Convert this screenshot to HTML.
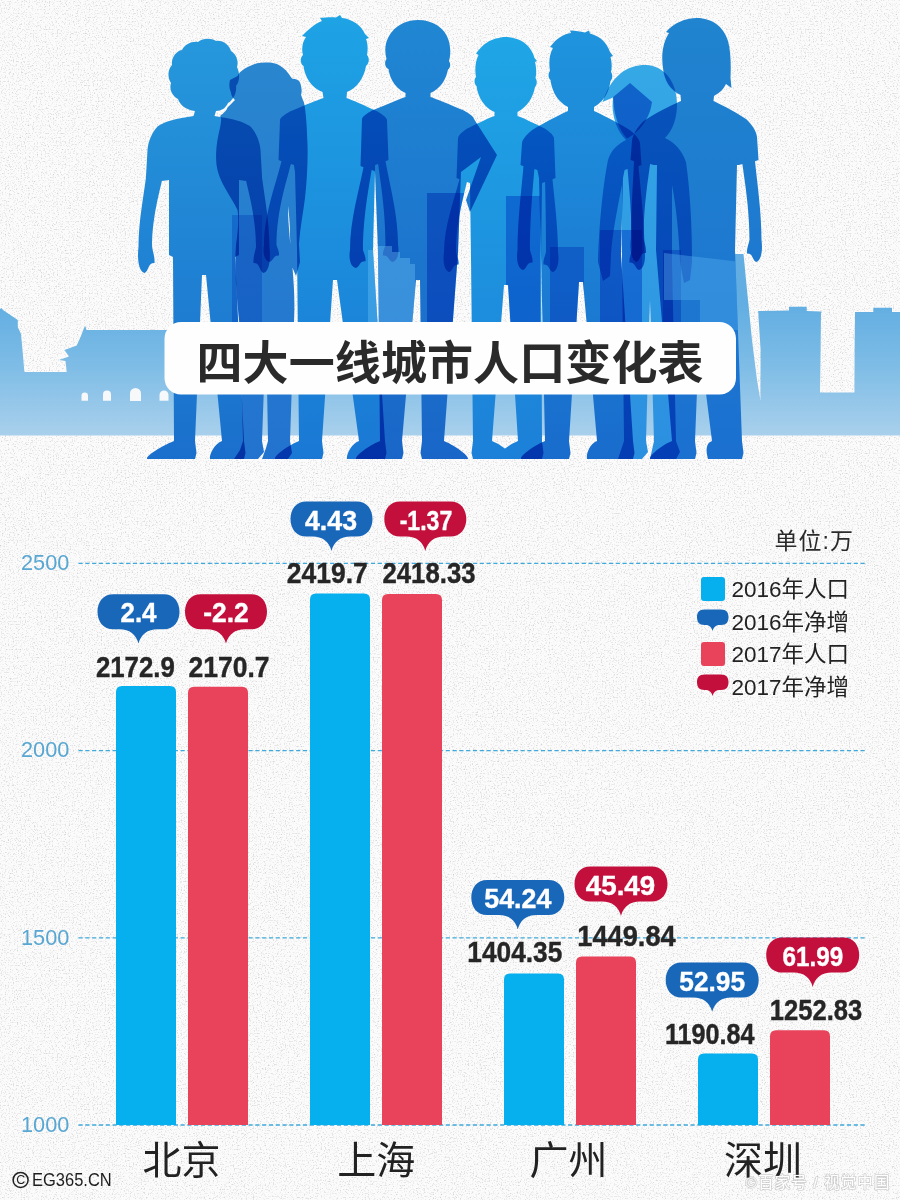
<!DOCTYPE html>
<html lang="zh"><head><meta charset="utf-8"><title>四大一线城市人口变化表</title>
<style>html,body{margin:0;padding:0;background:#f0f0f0;font-family:"Liberation Sans",sans-serif}#page{position:relative;width:900px;height:1200px;overflow:hidden;background:#efefef}#page svg{position:absolute;left:0;top:0;display:block}.ax{position:absolute;left:20.8px;width:70px;font-size:22.3px;line-height:24px;color:#58a6d2;transform-origin:0 50%;transform:scaleX(.975)}.sr{position:absolute;left:0;top:0;width:1px;height:1px;overflow:hidden;clip:rect(0 0 0 0);clip-path:inset(50%);white-space:nowrap;color:transparent;font-size:1px}.copy{position:absolute;left:32.2px;top:1167.8px;font-size:19px;line-height:24px;color:#1e1e1e;white-space:nowrap;transform-origin:0 50%;transform:scaleX(.868)}
#page svg text{font-family:"Liberation Sans","Noto Sans CJK SC",sans-serif}
.bub{font-size:28px;font-weight:bold;fill:#fff;stroke:#fff;stroke-width:0.4;text-anchor:middle}
.val{font-size:30px;font-weight:bold;fill:#262626;stroke:#262626;stroke-width:0.4;text-anchor:middle}
.city{font-size:39px;fill:#222;text-anchor:middle}
.leg{font-size:22.5px;fill:#222}
</style></head><body>
<div id="page">
<svg width="900" height="1200" viewBox="0 0 900 1200" role="img" aria-label="四大一线城市人口变化表">
<defs>
<filter id="noise" x="0" y="0" width="100%" height="100%" color-interpolation-filters="sRGB"><feTurbulence type="fractalNoise" baseFrequency="0.75" numOctaves="2" seed="7" result="t"/><feColorMatrix type="matrix" values="0 0 0 0 0.80  0 0 0 0 0.80  0 0 0 0 0.80  0 0 0 2.6 -1.38"/></filter>
<linearGradient id="sky" x1="0" y1="305" x2="0" y2="436" gradientUnits="userSpaceOnUse"><stop offset="0" stop-color="#62aee2"/><stop offset="0.45" stop-color="#7dbce6"/><stop offset="1" stop-color="#a9d0ec"/></linearGradient>
<linearGradient id="g2" x1="0" y1="60" x2="0" y2="460" gradientUnits="userSpaceOnUse"><stop offset="0" stop-color="#2a86cf"/><stop offset="1" stop-color="#2273cf"/></linearGradient><linearGradient id="g7" x1="0" y1="64" x2="0" y2="460" gradientUnits="userSpaceOnUse"><stop offset="0" stop-color="#35a8e6"/><stop offset="1" stop-color="#2b8fe0"/></linearGradient><linearGradient id="g1" x1="0" y1="38" x2="0" y2="460" gradientUnits="userSpaceOnUse"><stop offset="0" stop-color="#2698dc"/><stop offset="1" stop-color="#1a6fcc"/></linearGradient><linearGradient id="g4" x1="0" y1="20" x2="0" y2="460" gradientUnits="userSpaceOnUse"><stop offset="0" stop-color="#2087d3"/><stop offset="1" stop-color="#1966c8"/></linearGradient><linearGradient id="g6" x1="0" y1="30" x2="0" y2="460" gradientUnits="userSpaceOnUse"><stop offset="0" stop-color="#1f94dd"/><stop offset="1" stop-color="#196ccc"/></linearGradient><linearGradient id="g8" x1="0" y1="17" x2="0" y2="460" gradientUnits="userSpaceOnUse"><stop offset="0" stop-color="#2084cf"/><stop offset="1" stop-color="#1b70d0"/></linearGradient><linearGradient id="g3" x1="0" y1="17" x2="0" y2="460" gradientUnits="userSpaceOnUse"><stop offset="0" stop-color="#1ea3e5"/><stop offset="1" stop-color="#1a78d4"/></linearGradient><linearGradient id="g5" x1="0" y1="37" x2="0" y2="460" gradientUnits="userSpaceOnUse"><stop offset="0" stop-color="#1fa6e6"/><stop offset="1" stop-color="#1c80d8"/></linearGradient>
</defs>
<rect width="900" height="1200" fill="#fbfbfb"/>
<rect width="900" height="1200" fill="#000" filter="url(#noise)"/>
<path d="M0,309 L1.5,308 L3,310 L17.8,320 L17.8,327 L21,334 L22.5,350 L24.4,372 L66.7,372 L65.5,361 L59,360 L69,356.5 L64.4,350 L76.7,345.5 L81,336 L84,328 L85.3,326 L86.5,330 L200,330 L200,372 L731,372 L731,254 L743.5,254 L747,290 L752,340 L757,380 L760.4,400 L760.6,350 L759,325 L758.2,311 L789,310.6 L789,306.7 L806.7,306.7 L806.7,311 L821,311.5 L820.6,350 L820,392.5 L854.4,392.5 L854.6,350 L855,312 L873.3,312 L873.3,307.8 L892,307.8 L892,312 L900,312 L900,435.5 L0,435.5 Z" fill="url(#sky)"/>
<path d="M81.5,400.7 L81.5,395.8 A3.2,3.2 0 0 1 88,395.8 L88,400.7 Z" fill="#f6f8fa"/>
<path d="M103,400.7 L103,394.5 A4,4 0 0 1 111,394.5 L111,400.7 Z" fill="#f6f8fa"/>
<path d="M130,401 L130,393.5 A5.5,5.5 0 0 1 141,393.5 L141,401 Z" fill="#f6f8fa"/>
<path d="M159.5,400.7 L159.5,395 A4.5,4.5 0 0 1 168.5,395 L168.5,400.7 Z" fill="#f6f8fa"/>
<g style="isolation:isolate"><path style="mix-blend-mode:multiply" id="f2" d="M265,62.5 C272,62 279,64 282.5,67.5 C288,71 290,77 292.5,78.8 C296,79 299,80 300,82.5 C302,88 302,92 301,95 C302,98 303,100 304,102.5 C306,112 307,128 307.5,145 C308,160 307,180 305,198 C303,214 300,228 299,244 L300,262 L296,276 L291,264 L290,236 C290,224 289,214 288,206 C288,222 290,240 292,262 C294,285 295,300 294,322 L290,441 L292,453 L288,459 L262,459 L266,448 L268,441 L266,330 L262,441 L264,452 L258,459 L234,459 L240,450 L243,441 L240,330 C237,300 234,270 236,245 C238,230 239,220 237.5,210 C232,198 222,186 218,172 C214,158 217,140 220,128 C221,122 222,118 220,116 C224,113 227,110 227.5,107.5 C231,104 233,102 235,100 C232,97 231,95 231,92.5 C229,88 229,84 230,80 C233,78 236,77 237.5,76 C240,71 245,68 250,66 C254,63.5 260,62.5 265,62.5 Z" fill="url(#g2)"/><path style="mix-blend-mode:multiply" id="f7" d="M645,65 C664,65 677,82 677,104 C677,118 673,130 665,138 C674,142 682,150 686,162 C690,190 692,225 692,262 L690,280 L684,283 L680,262 C679,235 676,205 672,185 L672,262 L676,441 L680,452 L676,459 L650,459 L654,441 L650,300 L646,441 L648,452 L642,459 L618,459 L624,441 L622,262 L622,185 C618,205 612,235 611,255 L610,276 L603,281 L598,262 C599,225 603,185 608,160 C611,150 618,144 626,140 C618,132 613,120 612.5,106 L613,97.5 L602.5,102 C606,92 611,81 621,73 C628,67.5 637,65 645,65 Z" fill="url(#g7)"/><path style="mix-blend-mode:multiply" id="f7b" d="M630,83 L652,102 C650,118 640,132 627,138.5 C619,130 613.5,115 613.2,97 Z" fill="#4a98e0"/><path style="mix-blend-mode:multiply" id="f1" d="M193.5,116 L195,111 C186,110 180,105 178,99 C172,96 169,89 171,83 C167,77 168,69 172,65 C171,58 176,51 182,50 C185,44 192,41 198,42 C203,38 211,38 216,41 C223,40 229,45 231,51 C236,54 239,61 237,67 C240,73 240,81 236,86 C237,93 233,100 228,103 C226,108 221,111 216,111 L214.5,116 C220.3,117.3 238,118.5 250.5,126.4 C256.4,132.9 260,142.3 260.5,150 L262,176 L262,177.2 C264.6,197.3 269.5,222.2 269.5,247 C271,260 269,271.7 263.4,273 C258.7,270.4 260.1,262.6 253.5,263.1 C253,257.4 255,252.2 256,247 C256,218.6 248.9,193.8 245.9,180 L245.9,181 L239,180 L239,255 L235,257 L244,441 L245.5,453 L244,459 L210,459 C209,455 214,444 222,441 L206,275 L202,275 L195,441 L196.5,453 L195,459 L147,459 C146,455 166,444 174,441 L173,257 L169,255 L169,180 L162.1,181 L162.1,180 C159.1,193.8 152,218.6 152,247 C153,252.2 155,257.4 154.5,263.1 C147.9,262.6 149.3,270.4 144.6,273 C139,271.7 137,260 138.5,247 C138.5,222.2 143.4,197.3 146,177.2 L146,176 L147.5,150 C148,142.3 151.6,132.9 157.5,126.4 C170,118.5 187.7,117.3 193.5,116 Z" fill="url(#g1)"/><path style="mix-blend-mode:multiply" id="f4" d="M405.5,97 L405.5,93 C396,89 390,80 388.5,69 C385,68 384,62 386.5,59 C384.5,52 385,44 388,38 C393,27 405,20 418,20 C433,20 445,28 448.5,40 C451,48 450.5,56 449,61 C451,64 450.5,68 448,69.5 C446,80 440,89 430.5,93 L430.5,97 C435.5,98.8 448.8,104 463.9,110.6 C469.5,113.7 473.5,116.8 474,119 L497,155 L470,212 L466,200 L481,157 L461,172 L458,252 L444,441 C452,444 469,455 468,459 L422,459 L420.5,453 L422,441 L420,280 L416,280 L402,441 L403.5,453 L402,459 L356,459 C355,455 372,444 380,441 L378,252 L375,172 L374.6,171 L371.6,170 C369,187 363,216.4 363,250 C364,253.6 366,257.2 365.5,261.2 C359.1,260.8 360.4,266.2 355.9,268 C350.5,267.1 348.5,259 350,250 C350,220.6 358.8,191.2 363.5,167.2 L360.5,166 L362,119 C362.5,116.8 366.5,113.7 372.1,110.6 C387.2,104 400.5,98.8 405.5,97 Z" fill="url(#g4)"/><path style="mix-blend-mode:multiply" id="f6" d="M568,111 L568,107 C558,102 552,92 550.5,80 C548,78 548,73 550,71 C548.5,62 549.5,54 553,48 L550,47 C556,39 563,34 571,33 L570,30.5 C576,31 580,31 585,32.5 L589,30.5 L590,33.5 C600,36 607,43 610,52 L613,56 L610.5,57 C612,63 612,68 611,72 C613,75 612.5,79 610.5,81 C609,93 603,102 594,107 L594,111 C599.1,113.4 613.9,120.3 629.4,129.7 C635.4,134.3 639.5,139.3 640,143 L641.5,165 L638.5,166.2 C640.6,190.5 644.5,220.2 644.5,250 C646,260 644,269 638.9,270 C634.5,268 635.8,262 629.5,262.4 C629,258 631,254 632,250 C632,216 629,186.2 627.6,169 L624.6,170 L623,178 L621,255 L633,441 L634.5,453 L633,459 L587,459 C586,455 589,444 597,441 L583,282 L579,282 L569,441 L570.5,453 L569,459 L521,459 C520,455 537,444 545,441 L541,255 L539,178 L537.4,170 L534.4,169 C533,186.2 530,216 530,250 C531,254 533,258 532.5,262.4 C526.2,262 527.5,268 523.1,270 C518,269 516,260 517.5,250 C517.5,220.2 521.4,190.5 523.5,166.2 L520.5,165 L522,143 C522.5,139.3 526.6,134.3 532.6,129.7 C548.1,120.3 562.9,113.4 568,111 Z" fill="url(#g6)"/><path style="mix-blend-mode:multiply" id="f8" d="M681,101 L681,101 L680.5,95 C670,90 664,80 663,68 C661,55 663,42 669,33 L666,32 C674,23 685,18 697,18 C712,18 724,27 728,41 C731,52 731,66 730.5,78 L731.5,88 L726,84 C723,90 719,93 714,96 L713.5,101 C718.3,103.3 731.5,109.4 746.4,119.3 C752.4,125 756.5,131.8 757,137 L758.5,160 L755,161.2 C757.3,184 761.5,212 761.5,240 C763,251 761,260.9 756.1,262 C751.9,259.8 753.1,253.2 747,253.6 C746.5,248.8 748.5,244.4 749.5,240 C749.5,208 744.5,180 742.4,164 L738.9,165 L737,165 L735,250 L742,441 L743.5,453 L742,459 L708,459 C707,455 704,444 712,441 L693,290 L701,290 L695,441 L696.5,453 L695,459 L650,459 C649,455 664,444 672,441 L656,250 L657,165 L653.6,165 L650.1,164 C648.1,179.5 643.5,206.8 643.5,238 C644.5,242.8 646.5,247.6 646,252.9 C639.8,252.4 641,259.6 636.6,262 C631.5,260.8 629.5,250 631,238 C631,210.7 633,183.4 634,161.2 L630.5,160 L632,141 C632.5,135.2 636.8,127.7 643.2,121.4 C659.1,110.3 675.7,103.5 681,101 Z" fill="url(#g8)"/><path style="mix-blend-mode:multiply" id="f3" d="M323.5,98 L322.5,92 C312,88 305,78 303.5,66 C300,64 300,57 303,55 C301,48 303,41 306,37 L302,36 C308,30 314,24 322,21 L320,18 C326,17.5 330,17 336,17.5 L340,15 L342,18 C352,19 361,25 365,34 L369,38 L366,39 C368,44 368,50 367,55 C370,58 369,64 366,66 C364,78 357,88 347,92 L346.5,98 C351.5,99.8 363.6,105 377.6,111.6 C382.8,114.7 386.5,117.8 387,120 L388.5,160 L385.5,161.2 C389.9,185.5 398,215.2 398,245 C399.5,253.5 397.5,261.1 392.4,262 C388,260.3 389.2,255.2 383,255.5 C382.5,251.8 384.5,248.4 385.5,245 C385.5,211 380.4,181.2 378.1,164 L375.1,165 L375,172 L373,250 L385,441 L386.5,453 L385,459 L347,459 C346,455 351,444 359,441 L337,280 L333,280 L322,441 L323.5,453 L322,459 L275,459 C274,455 291,444 299,441 L297,250 L295,172 L293.9,165 L290.9,164 C286.6,181.2 276.5,211 276.5,245 C277.5,248.4 279.5,251.8 279,255.5 C272.8,255.2 274,260.3 269.6,262 C264.5,261.1 262.5,253.5 264,245 C264,215.2 275.4,185.5 281.5,161.2 L278.5,160 L280,120 C280.5,117.8 284.4,114.7 289.9,111.6 C304.8,105 318.5,99.8 323.5,98 Z" fill="url(#g3)"/><path style="mix-blend-mode:multiply" id="f5" d="M494.5,116 L494.5,112 C485,108 478,98 476.5,86 C474,84 474,79 476,77 C474.5,69 475.5,61 478.5,55 L476,53.5 C482,45 490,39 499,38 C503,36.5 509,37 513,38 C524,40 532,48 534.5,58 L537,61 L535,62 C536.5,68 536.5,74 535.5,78 C537.5,81 537,85 535,87 C533,98 527,107 517.5,112 L517.5,116 C522.6,117.7 532.4,122.4 545.2,128.8 C550.1,132 553.5,135.5 554,138 L555.5,178 L552.5,179.2 C554.4,200.2 558,226.1 558,252 C559.5,262 557.5,271 552.6,272 C548.4,270 549.6,264 543.5,264.4 C543,260 545,256 546,252 C546,222.4 545.4,196.5 545.1,182 L542.1,183 L542,185 L541,258 L542,441 L543.5,453 L542,459 L496,459 C495,455 510,444 518,441 L508,285 L504,285 L492,441 C500,444 515,455 514,459 L473,459 L471.5,453 L473,441 L471,258 L470,185 L469.9,183 L466.9,182 C463.6,196.5 456,222.4 456,252 C457,256 459,260 458.5,264.4 C452.4,264 453.6,270 449.4,272 C444.5,271 442.5,262 444,252 C444,226.1 454.1,200.2 459.5,179.2 L456.5,178 L458,138 C458.5,135.5 461.9,132 466.8,128.8 C479.6,122.4 489.4,117.7 494.5,116 Z" fill="url(#g5)"/><clipPath id="pc"><use href="#f2"/><use href="#f7"/><use href="#f7b"/><use href="#f1"/><use href="#f4"/><use href="#f6"/><use href="#f8"/><use href="#f3"/><use href="#f5"/></clipPath><g clip-path="url(#pc)" style="mix-blend-mode:multiply"><rect x="427" y="193" width="38" height="129" fill="#5fa6ea" opacity="0.9"/><rect x="506" y="196" width="34" height="126" fill="#5fa6ea" opacity="0.85"/><rect x="550" y="247" width="34" height="75" fill="#69aeec" opacity="0.8"/><rect x="600" y="230" width="42" height="92" fill="#5fa6ea" opacity="0.85"/><rect x="663" y="250" width="18" height="72" fill="#69aeec" opacity="0.8"/><rect x="232" y="215" width="30" height="107" fill="#74b6ee" opacity="0.7"/></g><g clip-path="url(#pc)"><path d="M368,250 L374,250 L374,246 L392,246 L392,252 L400,252 L400,258 L410,258 L410,264 L415,264 L415,322 L368,322 Z" fill="#6cc2f4" opacity="0.38"/><path d="M664,253 L741,262 L742,330 L700,330 L700,300 L664,300 Z" fill="#55b0f0" opacity="0.40"/></g></g>
<rect x="164.5" y="322" width="571.5" height="72.6" rx="16.5" ry="16.5" fill="#fefefe"/>
<text x="450" y="379" font-size="46" font-weight="bold" fill="#2b2a2a" text-anchor="middle" textLength="507" lengthAdjust="spacing">四大一线城市人口变化表</text>
<line x1="78.5" y1="563.4" x2="867" y2="563.4" stroke="#3fa9dc" stroke-width="1.3" stroke-dasharray="4.2 2.6"/>
<line x1="78.5" y1="750.6" x2="867" y2="750.6" stroke="#3fa9dc" stroke-width="1.3" stroke-dasharray="4.2 2.6"/>
<line x1="78.5" y1="937.8" x2="867" y2="937.8" stroke="#3fa9dc" stroke-width="1.3" stroke-dasharray="4.2 2.6"/>
<line x1="78.5" y1="1125" x2="867" y2="1125" stroke="#3fa9dc" stroke-width="1.3" stroke-dasharray="4.2 2.6"/>
<path d="M116,1125 L116,691.9 Q116,685.9 122,685.9 L170,685.9 Q176,685.9 176,691.9 L176,1125 Z" fill="#06afee"/>
<path d="M188,1125 L188,692.7 Q188,686.7 194,686.7 L242,686.7 Q248,686.7 248,692.7 L248,1125 Z" fill="#e8435a"/>
<path d="M310,1125 L310,599.5 Q310,593.5 316,593.5 L364,593.5 Q370,593.5 370,599.5 L370,1125 Z" fill="#06afee"/>
<path d="M382,1125 L382,600 Q382,594 388,594 L436,594 Q442,594 442,600 L442,1125 Z" fill="#e8435a"/>
<path d="M504,1125 L504,979.6 Q504,973.6 510,973.6 L558,973.6 Q564,973.6 564,979.6 L564,1125 Z" fill="#06afee"/>
<path d="M576,1125 L576,962.6 Q576,956.6 582,956.6 L630,956.6 Q636,956.6 636,962.6 L636,1125 Z" fill="#e8435a"/>
<path d="M698,1125 L698,1059.5 Q698,1053.5 704,1053.5 L752,1053.5 Q758,1053.5 758,1059.5 L758,1125 Z" fill="#06afee"/>
<path d="M770,1125 L770,1036.3 Q770,1030.3 776,1030.3 L824,1030.3 Q830,1030.3 830,1036.3 L830,1125 Z" fill="#e8435a"/>
<path d="M113.5,594.2 L163.5,594.2 C173.9,594.2 179.5,601.9 179.5,611.7 C179.5,621.5 173.9,629.2 163.5,629.2 L157.5,629.2 C147.5,629.2 141,634.2 138.5,643.5 C136,634.2 129.5,629.2 119.5,629.2 L113.5,629.2 C103.1,629.2 97.5,621.5 97.5,611.7 C97.5,601.9 103.1,594.2 113.5,594.2 Z" fill="#1867b9"/>
<text class="bub" x="138.5" y="622.4" textLength="36" lengthAdjust="spacingAndGlyphs">2.4</text>
<text class="val" x="135.4" y="677" textLength="79" lengthAdjust="spacingAndGlyphs">2172.9</text>
<path d="M201,594.2 L251,594.2 C261.4,594.2 267,601.9 267,611.7 C267,621.5 261.4,629.2 251,629.2 L245,629.2 C235,629.2 228.5,634.2 226,643.5 C223.5,634.2 217,629.2 207,629.2 L201,629.2 C190.6,629.2 185,621.5 185,611.7 C185,601.9 190.6,594.2 201,594.2 Z" fill="#c30f3c"/>
<text class="bub" x="226" y="622.4" textLength="45.5" lengthAdjust="spacingAndGlyphs">-2.2</text>
<text class="val" x="229" y="677" textLength="81" lengthAdjust="spacingAndGlyphs">2170.7</text>
<text class="city" x="181.4" y="1174">北京</text>
<path d="M306.5,501.6 L356.5,501.6 C366.9,501.6 372.5,509.3 372.5,519.1 C372.5,528.9 366.9,536.6 356.5,536.6 L350.5,536.6 C340.5,536.6 334,541.6 331.5,550.9 C329,541.6 322.5,536.6 312.5,536.6 L306.5,536.6 C296.1,536.6 290.5,528.9 290.5,519.1 C290.5,509.3 296.1,501.6 306.5,501.6 Z" fill="#1867b9"/>
<text class="bub" x="331" y="529.8" textLength="52" lengthAdjust="spacingAndGlyphs">4.43</text>
<text class="val" x="327.3" y="583.4" textLength="81" lengthAdjust="spacingAndGlyphs">2419.7</text>
<path d="M400.3,501.6 L450.3,501.6 C460.7,501.6 466.3,509.3 466.3,519.1 C466.3,528.9 460.7,536.6 450.3,536.6 L444.3,536.6 C434.3,536.6 427.8,541.6 425.3,550.9 C422.8,541.6 416.3,536.6 406.3,536.6 L400.3,536.6 C389.9,536.6 384.3,528.9 384.3,519.1 C384.3,509.3 389.9,501.6 400.3,501.6 Z" fill="#c30f3c"/>
<text class="bub" x="426" y="529.8" textLength="52.6" lengthAdjust="spacingAndGlyphs">-1.37</text>
<text class="val" x="429" y="583.4" textLength="93" lengthAdjust="spacingAndGlyphs">2418.33</text>
<text class="city" x="376.3" y="1174">上海</text>
<path d="M487.3,880 L548.3,880 C558.7,880 564.3,887.7 564.3,897.5 C564.3,907.3 558.7,915 548.3,915 L536.8,915 C526.8,915 520.3,920 517.8,929.3 C515.3,920 508.8,915 498.8,915 L487.3,915 C476.9,915 471.3,907.3 471.3,897.5 C471.3,887.7 476.9,880 487.3,880 Z" fill="#1867b9"/>
<text class="bub" x="517.8" y="908.2" textLength="67" lengthAdjust="spacingAndGlyphs">54.24</text>
<text class="val" x="514.8" y="962" textLength="95" lengthAdjust="spacingAndGlyphs">1404.35</text>
<path d="M590.5,866.5 L651.5,866.5 C661.9,866.5 667.5,874.2 667.5,884 C667.5,893.8 661.9,901.5 651.5,901.5 L640,901.5 C630,901.5 623.5,906.5 621,915.8 C618.5,906.5 612,901.5 602,901.5 L590.5,901.5 C580.1,901.5 574.5,893.8 574.5,884 C574.5,874.2 580.1,866.5 590.5,866.5 Z" fill="#c30f3c"/>
<text class="bub" x="620.5" y="894.7" textLength="69.4" lengthAdjust="spacingAndGlyphs">45.49</text>
<text class="val" x="626.5" y="946" textLength="98.5" lengthAdjust="spacingAndGlyphs">1449.84</text>
<text class="city" x="568.6" y="1174">广州</text>
<path d="M681.7,962.5 L742.7,962.5 C753.1,962.5 758.7,970.2 758.7,980 C758.7,989.8 753.1,997.5 742.7,997.5 L731.2,997.5 C721.2,997.5 714.7,1002.5 712.2,1011.8 C709.7,1002.5 703.2,997.5 693.2,997.5 L681.7,997.5 C671.3,997.5 665.7,989.8 665.7,980 C665.7,970.2 671.3,962.5 681.7,962.5 Z" fill="#1867b9"/>
<text class="bub" x="712.2" y="990.7" textLength="65.8" lengthAdjust="spacingAndGlyphs">52.95</text>
<text class="val" x="709.8" y="1044.2" textLength="89.7" lengthAdjust="spacingAndGlyphs">1190.84</text>
<path d="M782.2,937.6 L843.2,937.6 C853.6,937.6 859.2,945.3 859.2,955.1 C859.2,964.9 853.6,972.6 843.2,972.6 L831.7,972.6 C821.7,972.6 815.2,977.6 812.7,986.9 C810.2,977.6 803.7,972.6 793.7,972.6 L782.2,972.6 C771.8,972.6 766.2,964.9 766.2,955.1 C766.2,945.3 771.8,937.6 782.2,937.6 Z" fill="#c30f3c"/>
<text class="bub" x="812.8" y="965.8" textLength="60.8" lengthAdjust="spacingAndGlyphs">61.99</text>
<text class="val" x="816" y="1020.4" textLength="92.4" lengthAdjust="spacingAndGlyphs">1252.83</text>
<text class="city" x="763" y="1174">深圳</text>
<text x="774.5" y="549" font-size="23" fill="#2a2a2a" textLength="78.5" lengthAdjust="spacing">单位:万</text>
<rect x="701" y="577" width="24" height="24" rx="3" fill="#06afee"/>
<text class="leg" x="731.5" y="597.4">2016年人口</text>
<path d="M704.5,609.6 L721,609.6 C726.5,609.6 728.5,612.6 728.5,617.1 C728.5,622.1 726.5,625.1 721,625.1 L719.6,625.1 C715.6,625.1 713.6,627.6 712.6,631.1 C711.6,627.6 709.6,625.1 705.6,625.1 L704.5,625.1 C699,625.1 697,622.1 697,617.1 C697,612.6 699,609.6 704.5,609.6 Z" fill="#1867b9"/>
<text class="leg" x="731.5" y="630">2016年净增</text>
<rect x="701" y="642" width="24" height="24" rx="3" fill="#e8435a"/>
<text class="leg" x="731.5" y="662.4">2017年人口</text>
<path d="M704.5,674.6 L721,674.6 C726.5,674.6 728.5,677.6 728.5,682.1 C728.5,687.1 726.5,690.1 721,690.1 L719.6,690.1 C715.6,690.1 713.6,692.6 712.6,696.1 C711.6,692.6 709.6,690.1 705.6,690.1 L704.5,690.1 C699,690.1 697,687.1 697,682.1 C697,677.6 699,674.6 704.5,674.6 Z" fill="#c30f3c"/>
<text class="leg" x="731.5" y="695">2017年净增</text>
<circle cx="20.6" cy="1179.9" r="7.5" fill="none" stroke="#222" stroke-width="1.5"/>
<text x="20.8" y="1184.3" font-size="12.5" fill="#222" text-anchor="middle">C</text>
<text x="745.5" y="1187.5" font-size="15.5" fill="none" stroke="#8a8a8a" stroke-width="1.6" stroke-linejoin="round" opacity="0.35" textLength="144" lengthAdjust="spacing">©百家号 / 视觉中国</text>
<text x="745.5" y="1187.5" font-size="15.5" fill="#ffffff" textLength="144" lengthAdjust="spacing">©百家号 / 视觉中国</text>
</svg>
<div class="ax" style="top:551.2px">2500</div>
<div class="ax" style="top:738.4px">2000</div>
<div class="ax" style="top:925.6px">1500</div>
<div class="ax" style="top:1112.8px">1000</div>
<div class="copy">EG365.CN</div>
<div class="sr"><h1>四大一线城市人口变化表</h1><p>单位:万</p><ul><li>北京: 2016年人口 2172.9 (净增 2.4); 2017年人口 2170.7 (净增 -2.2)</li><li>上海: 2016年人口 2419.7 (净增 4.43); 2017年人口 2418.33 (净增 -1.37)</li><li>广州: 2016年人口 1404.35 (净增 54.24); 2017年人口 1449.84 (净增 45.49)</li><li>深圳: 2016年人口 1190.84 (净增 52.95); 2017年人口 1252.83 (净增 61.99)</li></ul></div>
</div></body></html>
